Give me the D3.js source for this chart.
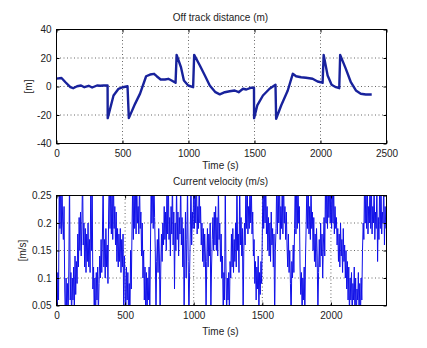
<!DOCTYPE html>
<html><head><meta charset="utf-8">
<script src="https://cdn.jsdelivr.net/npm/d3@7/dist/d3.min.js"></script>
<style>
html,body{margin:0;padding:0;background:#fff;}
text{font-family:"Liberation Sans",Arial,sans-serif;font-size:10px;fill:#222;}
</style></head>
<body><svg id="c" width="427" height="348"></svg>
<script>
// ---- Data ----
const offTime = [0,38,68,105,126,156,186,211,244,270,307,332,357,387,388,432,470,503,538,548,596,633,679,709,739,759,789,822,847,872,902,910,943,965,998,1035,1043,1086,1124,1161,1204,1237,1275,1312,1350,1380,1413,1438,1471,1496,1497,1521,1564,1614,1659,1664,1702,1752,1790,1815,1853,1890,1940,1978,2003,2016,2024,2054,2084,2117,2142,2149,2192,2230,2268,2305,2343,2388];
const offDist = [5.5,6,3,-0.5,-1.2,0.2,0.7,-0.5,0.5,-0.7,0.7,0.5,0.7,0.7,-22.2,-6.3,-1.6,-0.5,0.2,-22.2,-12,-5,7.2,8.4,8.9,7.2,4.9,4.9,5.4,4.2,2.6,22.2,13.5,4.2,0.7,-0.5,22.2,14.7,7.7,0.7,-4,-5.5,-4,-3.3,-2.8,-4,-1.6,-2.1,-0.9,-0.9,-22.2,-13.3,-6.3,-1.6,1.2,-22.6,-13.3,-2.8,8.9,7.2,6.5,6.1,5.4,3.5,3,2.6,22.2,7.7,1.2,-0.5,-1.2,22.2,12.4,3,-2.8,-5.1,-5.6,-5.6];

const velStep = 5; // seconds between samples
const velValues = [
0.12,0.03,0.11,0.06,0.29,0.19,0.28,0.18,0.27,0.20,
0.17,0.23,0.08,0.02,0.10,0.03,0.09,0.03,0.12,0.29,
0.06,0.11,0.02,0.10,0.06,0.12,0.03,0.14,0.07,0.13,
0.09,0.18,0.12,0.21,0.15,0.22,0.14,0.20,0.29,0.16,
0.20,0.12,0.19,0.11,0.18,0.13,0.20,0.12,0.17,0.11,
0.29,0.15,0.27,0.08,0.12,0.03,0.10,0.02,0.11,0.06,
0.12,0.03,0.09,0.14,0.10,0.17,0.11,0.18,0.29,0.12,
0.17,0.10,0.19,0.12,0.16,0.09,0.22,0.29,0.19,0.28,
0.18,0.27,0.17,0.28,0.19,0.23,0.16,0.22,0.13,0.19,
0.12,0.18,0.13,0.19,0.11,0.17,0.12,0.18,0.03,0.14,
0.10,0.02,0.12,0.06,0.11,0.03,0.09,0.02,0.15,0.08,
0.18,0.27,0.17,0.29,0.19,0.27,0.18,0.28,0.20,0.23,
0.18,0.28,0.19,0.22,0.14,0.20,0.10,0.15,0.06,0.12,
0.03,0.11,0.02,0.10,0.06,0.12,0.03,0.16,0.28,0.20,
0.27,0.19,0.29,0.21,0.15,0.03,0.13,0.17,0.11,0.19,
0.14,0.02,0.12,0.18,0.13,0.20,0.16,0.23,0.17,0.22,
0.15,0.27,0.18,0.29,0.17,0.21,0.14,0.23,0.18,0.28,
0.16,0.22,0.08,0.20,0.15,0.27,0.17,0.22,0.14,0.21,
0.18,0.28,0.16,0.21,0.12,0.19,0.03,0.14,0.22,0.10,
0.17,0.27,0.13,0.02,0.11,0.18,0.28,0.16,0.22,0.19,
0.28,0.19,0.27,0.20,0.29,0.18,0.23,0.19,0.28,0.20,
0.23,0.16,0.20,0.13,0.19,0.12,0.18,0.14,0.03,0.13,
0.19,0.12,0.18,0.14,0.20,0.03,0.12,0.17,0.21,0.15,
0.22,0.16,0.23,0.15,0.21,0.14,0.27,0.17,0.20,0.13,
0.18,0.10,0.14,0.03,0.11,0.06,0.28,0.12,0.03,0.10,
0.06,0.11,0.03,0.13,0.10,0.18,0.12,0.19,0.11,0.17,
0.13,0.20,0.12,0.29,0.15,0.18,0.11,0.28,0.16,0.21,
0.14,0.19,0.02,0.15,0.20,0.16,0.27,0.19,0.28,0.18,
0.23,0.19,0.28,0.20,0.27,0.18,0.22,0.14,0.17,0.09,
0.13,0.06,0.12,0.08,0.14,0.03,0.11,0.07,0.13,0.09,
0.18,0.28,0.19,0.27,0.20,0.28,0.18,0.23,0.15,0.21,
0.14,0.20,0.13,0.22,0.16,0.19,0.12,0.18,0.02,0.15,
0.19,0.28,0.18,0.27,0.20,0.29,0.17,0.23,0.19,0.27,
0.18,0.28,0.20,0.23,0.17,0.22,0.16,0.12,0.18,0.11,
0.15,0.09,0.02,0.13,0.10,0.16,0.11,0.19,0.28,0.18,
0.27,0.19,0.28,0.20,0.23,0.12,0.07,0.11,0.03,0.10,
0.06,0.12,0.03,0.14,0.20,0.28,0.19,0.27,0.18,0.23,
0.17,0.27,0.19,0.22,0.15,0.21,0.13,0.18,0.12,0.19,
0.14,0.03,0.11,0.17,0.12,0.20,0.14,0.18,0.10,0.16,
0.21,0.14,0.27,0.20,0.29,0.19,0.28,0.21,0.27,0.20,
0.28,0.19,0.29,0.20,0.27,0.18,0.23,0.19,0.21,0.16,
0.19,0.13,0.18,0.12,0.20,0.14,0.17,0.11,0.19,0.13,
0.16,0.10,0.15,0.08,0.13,0.06,0.12,0.03,0.10,0.06,
0.11,0.02,0.09,0.06,0.12,0.03,0.10,0.02,0.08,0.06,
0.11,0.03,0.09,0.02,0.10,0.06,0.15,0.20,0.17,0.28,
0.20,0.27,0.19,0.28,0.18,0.23,0.20,0.29,0.19,0.27,
0.18,0.23,0.20,0.28,0.17,0.22,0.19,0.27,0.13,0.21,
0.17,0.27,0.19,0.28,0.18,0.22,0.20,0.28,0.16,0.23,
0.19
];

const topTitle = "Off track distance (m)";
const botTitle = "Current velocity (m/s)";
const xLabel = "Time (s)";
const topYLabel = "[m]";
const botYLabel = "[m/s]";
const topXTicks = [0,500,1000,1500,2000,2500];
const topYTicks = [-40,-20,0,20,40];
const botXTicks = [0,500,1000,1500,2000];
const botYTicks = [0.05,0.1,0.15,0.2,0.25];
const botYTickLabels = ["0.05","0.1","0.15","0.2","0.25"];

// ---- Drawing ----
const svg = d3.select("#c");

function panel(cfg){
  const g = svg.append("g");
  const x = d3.scaleLinear().domain(cfg.xDomain).range([cfg.left, cfg.right]);
  const y = d3.scaleLinear().domain(cfg.yDomain).range([cfg.bottom, cfg.top]);
  const w = cfg.right - cfg.left, h = cfg.bottom - cfg.top;
  const grid = g.append("g").attr("stroke","#000").attr("stroke-width",0.8)
    .attr("stroke-dasharray","1,2.5").attr("opacity",0.75);
  cfg.xTicks.forEach(t=>{ if(x(t)>cfg.left+1 && x(t)<cfg.right-1)
    grid.append("line").attr("x1",x(t)).attr("x2",x(t)).attr("y1",cfg.top).attr("y2",cfg.bottom);});
  cfg.yTicks.forEach(t=>{ if(y(t)>cfg.top+1 && y(t)<cfg.bottom-1)
    grid.append("line").attr("y1",y(t)).attr("y2",y(t)).attr("x1",cfg.left).attr("x2",cfg.right);});
  const clipId = "clip"+cfg.id;
  svg.append("defs").append("clipPath").attr("id",clipId)
    .append("rect").attr("x",cfg.left).attr("y",cfg.top).attr("width",w).attr("height",h);
  const line = d3.line().x(d=>x(d[0])).y(d=>y(d[1]));
  g.append("path").datum(cfg.data).attr("d",line).attr("fill","none")
    .attr("stroke",cfg.color).attr("stroke-width",cfg.lw).attr("stroke-linejoin","round")
    .attr("clip-path","url(#"+clipId+")");
  const tl = 3;
  const axB = d3.axisBottom(x).tickValues(cfg.xTicks).tickSize(-tl).tickPadding(6).tickFormat(d3.format("d"));
  const axT = d3.axisTop(x).tickValues(cfg.xTicks).tickSize(-tl).tickFormat("");
  const axL = d3.axisLeft(y).tickValues(cfg.yTicks).tickSize(-tl).tickPadding(5).tickFormat((d,i)=>cfg.yFmt[i]);
  const axR = d3.axisRight(y).tickValues(cfg.yTicks).tickSize(-tl).tickFormat("");
  const style = s => { s.select(".domain").remove(); s.selectAll("line").attr("stroke","#000");
    s.selectAll("text").attr("fill","#222").style("font-size","10px").style("font-family","Liberation Sans, Arial, sans-serif"); };
  g.append("g").attr("transform",`translate(0,${cfg.bottom})`).call(axB).call(style);
  g.append("g").attr("transform",`translate(0,${cfg.top})`).call(axT).call(style);
  g.append("g").attr("transform",`translate(${cfg.left},0)`).call(axL).call(style);
  g.append("g").attr("transform",`translate(${cfg.right},0)`).call(axR).call(style);
  g.append("rect").attr("x",cfg.left).attr("y",cfg.top).attr("width",w).attr("height",h)
    .attr("fill","none").attr("stroke","#000").attr("stroke-width",1);
  g.append("text").attr("x",(cfg.left+cfg.right)/2-1).attr("y",cfg.titleY).attr("text-anchor","middle").text(cfg.title);
  g.append("text").attr("x",(cfg.left+cfg.right)/2-1).attr("y",cfg.xLabelY).attr("text-anchor","middle").text(xLabel);
  g.append("text").attr("transform",`translate(${cfg.yLabelX},${(cfg.top+cfg.bottom)/2}) rotate(-90)`)
    .attr("text-anchor","middle").text(cfg.yLabel);
}

panel({id:"a", left:56.5, right:386.5, top:29.5, bottom:143.5,
  xDomain:[0,2500], yDomain:[-40,40], xTicks:topXTicks, yTicks:topYTicks,
  yFmt: topYTicks.map(String),
  data: offTime.map((t,i)=>[t,offDist[i]]), color:"#18229c", lw:2.4,
  title:topTitle, titleY:20.5, xLabelY:169, yLabel:topYLabel, yLabelX:32});

panel({id:"b", left:56.5, right:386.5, top:195.5, bottom:305.5,
  xDomain:[0,2405], yDomain:[0.05,0.25], xTicks:botXTicks, yTicks:botYTicks,
  yFmt: botYTickLabels,
  data: velValues.map((v,i)=>[i*velStep,v]), color:"#1010e8", lw:1,
  title:botTitle, titleY:185, xLabelY:335, yLabel:botYLabel, yLabelX:26});
</script></body></html>
